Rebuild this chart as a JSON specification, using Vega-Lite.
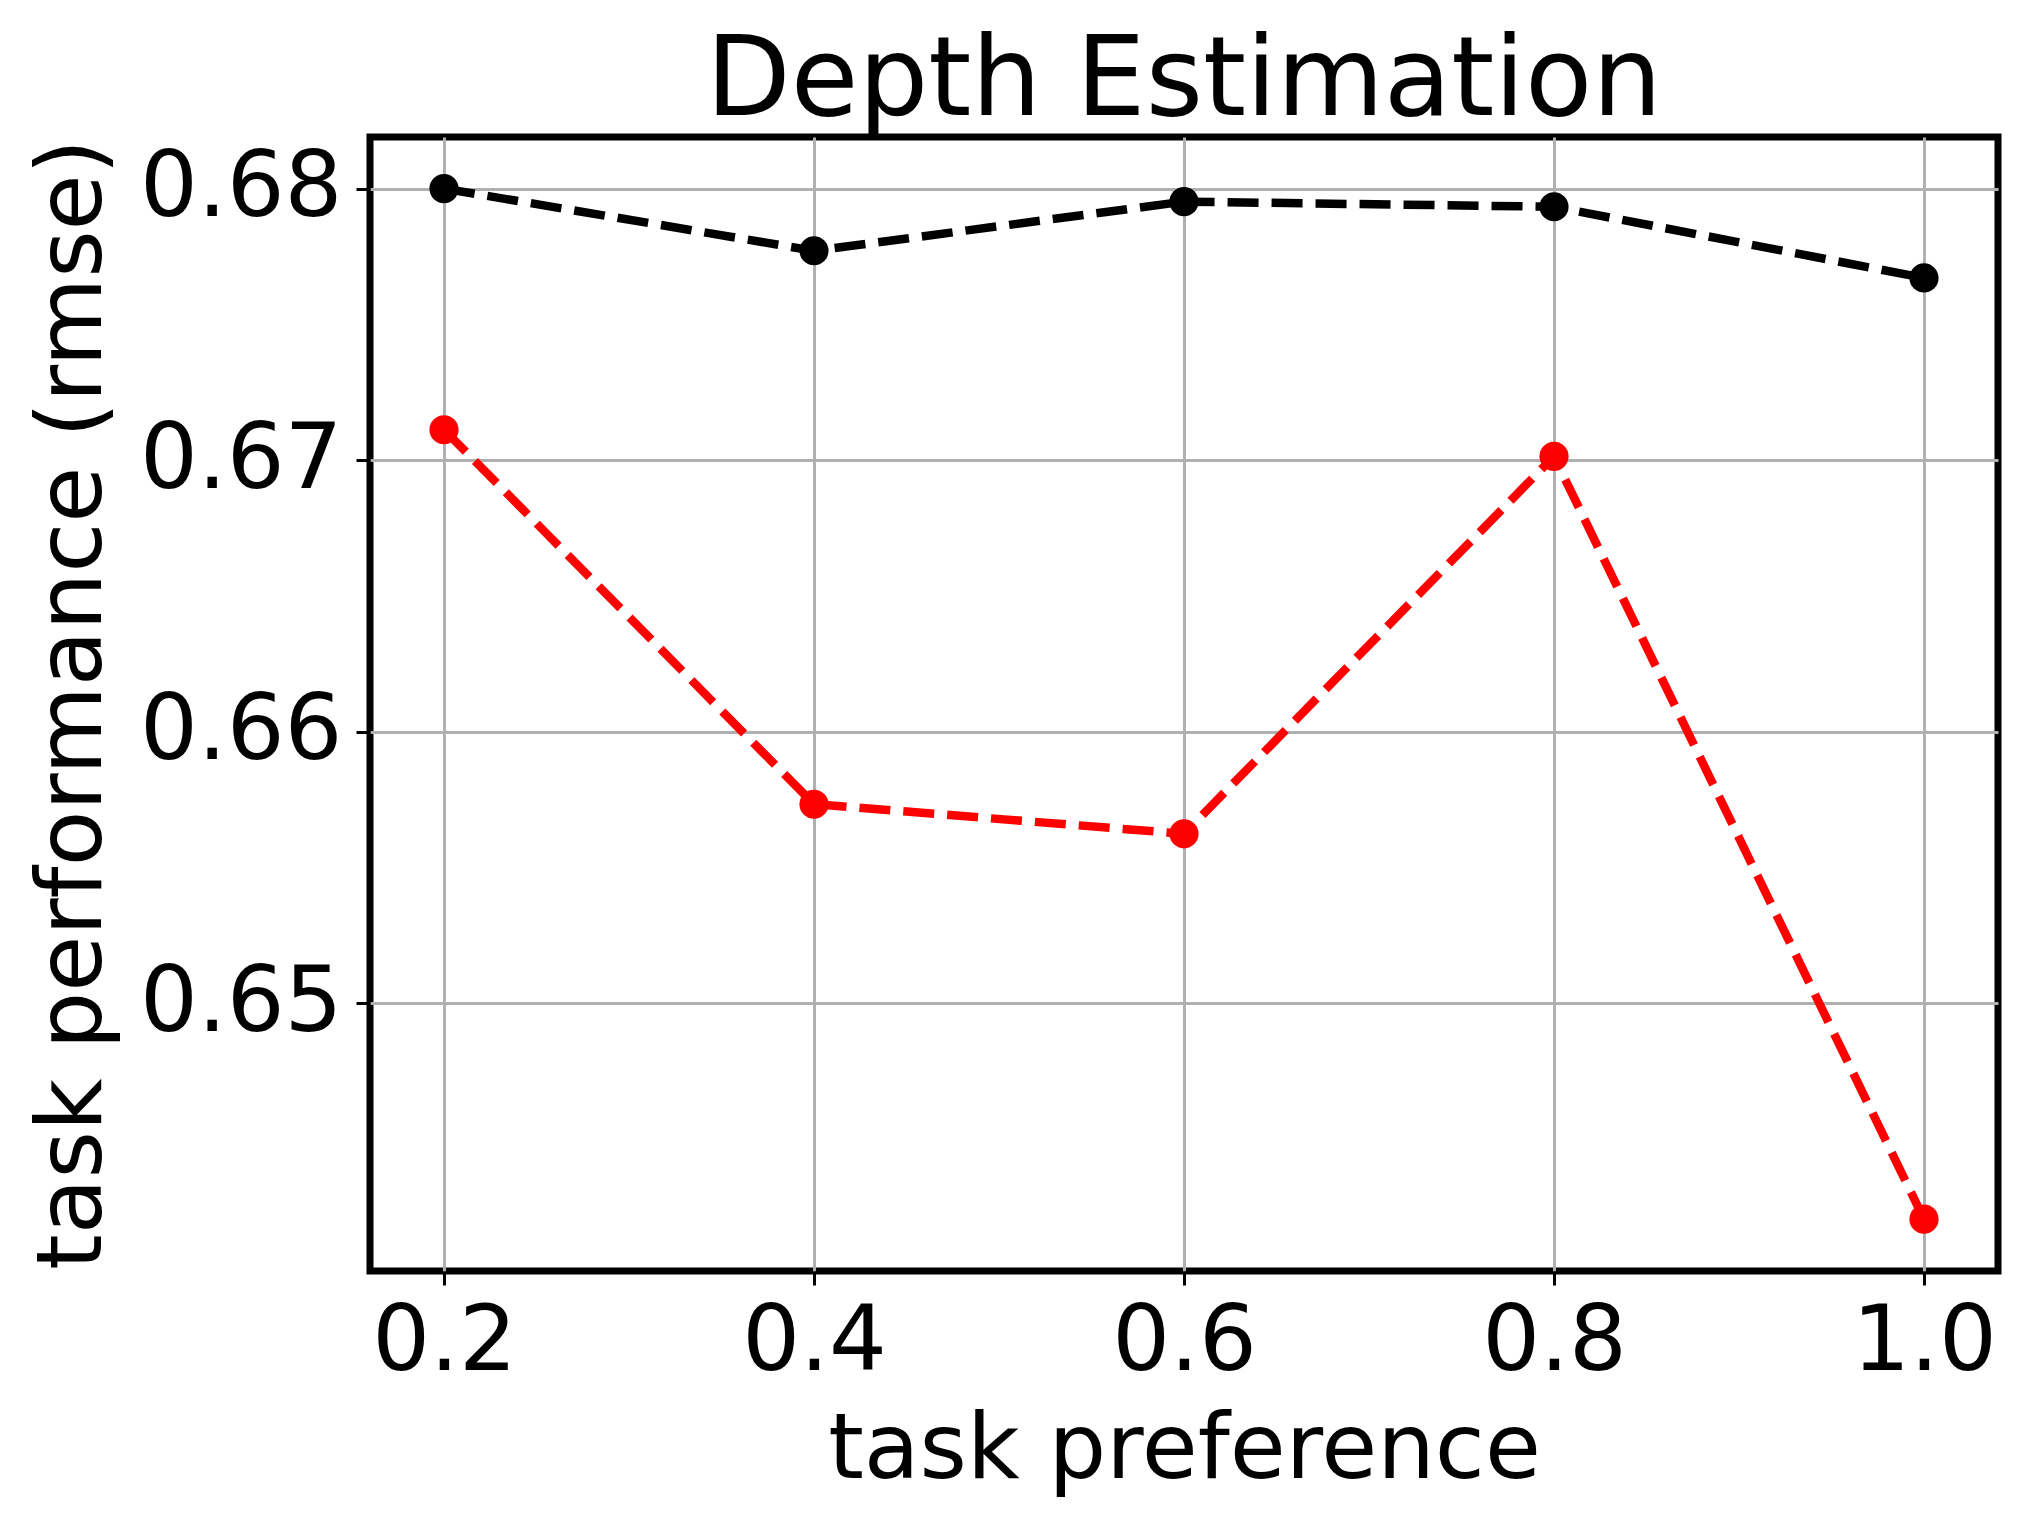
{
  "$schema": "https://vega.github.io/schema/vega-lite/v6.json",
  "autosize": {"type": "none"},
  "width": 1628,
  "height": 1134,
  "padding": {"left": 370, "top": 137, "right": 29, "bottom": 256},
  "background": "white",
  "config": {
    "font": "DejaVu Sans",
    "view": {"stroke": "black", "strokeWidth": 7},
    "axis": {
      "labelFont": "DejaVu Sans",
      "titleFont": "DejaVu Sans",
      "labelFontSize": 91,
      "titleFontSize": 91,
      "labelColor": "black",
      "titleColor": "black",
      "titleFontWeight": "normal",
      "labelLimit": 0,
      "titleLimit": 0,
      "domain": false,
      "tickColor": "black",
      "tickSize": 14,
      "tickWidth": 3,
      "gridColor": "#b0b0b0",
      "gridWidth": 3,
      "gridOpacity": 1
    }
  },
  "title": {
    "text": "Depth Estimation",
    "font": "DejaVu Sans",
    "fontSize": 110,
    "fontWeight": "normal",
    "color": "black",
    "anchor": "middle",
    "baseline": "alphabetic",
    "offset": 22,
    "dy": 110
  },
  "data": {
    "values": [
      {"pref": 0.2, "rmse": 0.6800, "series": "a"},
      {"pref": 0.4, "rmse": 0.67771, "series": "a"},
      {"pref": 0.6, "rmse": 0.67952, "series": "a"},
      {"pref": 0.8, "rmse": 0.67933, "series": "a"},
      {"pref": 1.0, "rmse": 0.67671, "series": "a"},
      {"pref": 0.2, "rmse": 0.67112, "series": "b"},
      {"pref": 0.4, "rmse": 0.65733, "series": "b"},
      {"pref": 0.6, "rmse": 0.65624, "series": "b"},
      {"pref": 0.8, "rmse": 0.67014, "series": "b"},
      {"pref": 1.0, "rmse": 0.64205, "series": "b"}
    ]
  },
  "encoding": {
    "x": {
      "field": "pref",
      "type": "quantitative",
      "scale": {"domain": [0.16, 1.04], "nice": false, "zero": false},
      "axis": {
        "title": "task preference",
        "values": [0.2, 0.4, 0.6, 0.8, 1.0],
        "format": ".1f",
        "labelPadding": 12,
        "titlePadding": 18,
        "labelFlush": false
      }
    },
    "y": {
      "field": "rmse",
      "type": "quantitative",
      "scale": {"domain": [0.64014, 0.6819], "nice": false, "zero": false},
      "axis": {
        "title": "task performance (rmse)",
        "values": [0.65, 0.66, 0.67, 0.68],
        "format": ".2f",
        "labelPadding": 14,
        "titleAngle": 270,
        "titleBaseline": "alphabetic",
        "titleX": -270,
        "titleY": 567,
        "labelFlush": false
      }
    },
    "color": {
      "field": "series",
      "type": "nominal",
      "scale": {"domain": ["a", "b"], "range": ["#000000", "#ff0000"]},
      "legend": null
    }
  },
  "layer": [
    {"mark": {"type": "line", "strokeWidth": 8.5, "strokeDash": [31, 13], "clip": false}},
    {"mark": {"type": "point", "filled": true, "opacity": 1, "size": 850, "shape": "circle", "clip": false}}
  ]
}
